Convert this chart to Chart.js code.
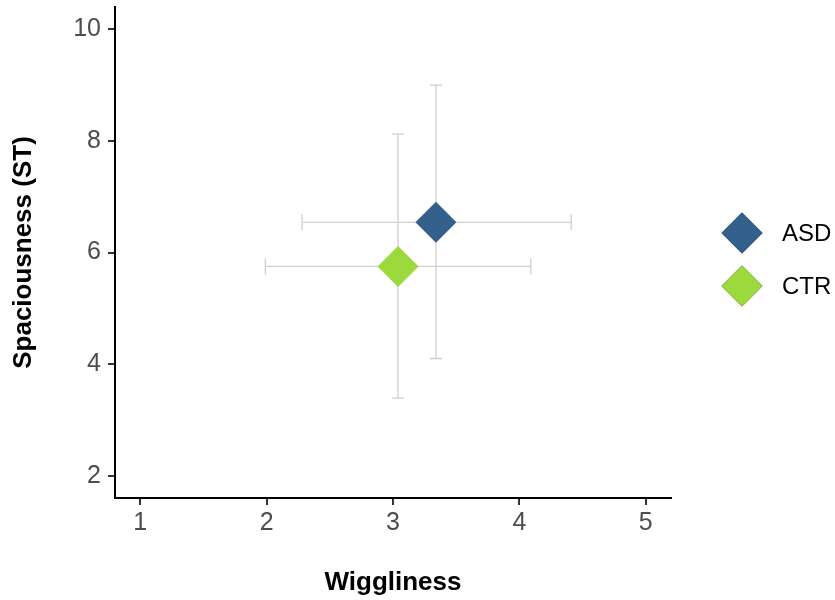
<!DOCTYPE html>
<html>
<head>
<meta charset="utf-8">
<script src="https://cdn.jsdelivr.net/npm/chart.js@4/dist/chart.umd.min.js"></script>
<style>
  html, body { margin: 0; padding: 0; background: #fff; }
  #wrap { width: 835px; height: 600px; }
</style>
</head>
<body>
<div id="wrap"><canvas id="chart" width="835" height="600"></canvas></div>
<script>
const groups = ['ASD', 'CTR'];
const colors = ['#34608C', '#9BD93C'];
const wiggliness = [3.34, 3.04];
const spaciousness = [6.54, 5.75];
const xLow = [2.28, 1.99];
const xHigh = [4.41, 4.09];
const yLow = [4.10, 3.39];
const yHigh = [9.00, 8.12];
const xTicks = [1, 2, 3, 4, 5];
const yTicks = [2, 4, 6, 8, 10];

const fontFamily = '"Liberation Sans", Arial, sans-serif';

// error bars drawn under the diamonds
const errorBars = {
    id: 'errorBars',
    beforeDatasetsDraw(chart) {
        const ctx = chart.ctx;
        const xs = chart.scales.x, ys = chart.scales.y;
        ctx.save();
        ctx.strokeStyle = '#D0D0D0';
        ctx.lineWidth = 1.3;
        groups.forEach((g, i) => {
            const cx = xs.getPixelForValue(wiggliness[i]);
            const cy = ys.getPixelForValue(spaciousness[i]);
            const x0 = xs.getPixelForValue(xLow[i]);
            const x1 = xs.getPixelForValue(xHigh[i]);
            const y0 = ys.getPixelForValue(yLow[i]);
            const y1 = ys.getPixelForValue(yHigh[i]);
            const hc = 8, vc = 6;
            ctx.beginPath();
            ctx.moveTo(x0, cy); ctx.lineTo(x1, cy);
            ctx.moveTo(x0, cy - hc); ctx.lineTo(x0, cy + hc);
            ctx.moveTo(x1, cy - hc); ctx.lineTo(x1, cy + hc);
            ctx.moveTo(cx, y0); ctx.lineTo(cx, y1);
            ctx.moveTo(cx - vc, y0); ctx.lineTo(cx + vc, y0);
            ctx.moveTo(cx - vc, y1); ctx.lineTo(cx + vc, y1);
            ctx.stroke();
        });
        ctx.restore();
    }
};

const sideLegend = {
    id: 'sideLegend',
    afterDraw(chart) {
        const ctx = chart.ctx;
        const area = chart.chartArea;
        const left = area.right + 71;
        const top = 233;
        ctx.save();
        groups.forEach((g, i) => {
            const y = top + i * 53;
            Chart.helpers.drawPoint(ctx, {
                pointStyle: 'rectRot', radius: 20.5, borderWidth: 0, rotation: 0
            }, left, y);
            ctx.fillStyle = colors[i];
            ctx.fill();
            ctx.fillStyle = '#000';
            ctx.font = '24px ' + fontFamily;
            ctx.textBaseline = 'middle';
            ctx.textAlign = 'left';
            ctx.fillText(g, left + 40, y + 1);
        });
        ctx.restore();
    }
};

const datasets = groups.map((g, i) => ({
    label: g,
    data: [{ x: wiggliness[i], y: spaciousness[i] }],
    backgroundColor: colors[i],
    borderWidth: 0,
    pointStyle: 'rectRot',
    pointRadius: 20.5,
    pointHoverRadius: 20.5
}));

new Chart(document.getElementById('chart').getContext('2d'), {
    type: 'scatter',
    data: { datasets: datasets },
    options: {
        responsive: false,
        animation: false,
        layout: { autoPadding: false, padding: { top: 6, right: 164, left: 0, bottom: 0 } },
        plugins: { legend: { display: false }, tooltip: { enabled: false } },
        scales: {
            x: {
                type: 'linear',
                min: 0.8,
                max: 5.2,
                afterFit(scale) { scale.height = 102; },
                afterBuildTicks(scale) { scale.ticks = xTicks.map(v => ({ value: v })); },
                ticks: { color: '#4D4D4D', font: { size: 25, family: fontFamily }, padding: 3 },
                grid: { display: true, drawOnChartArea: false, drawTicks: true, tickLength: 7, color: '#333', lineWidth: 2 },
                border: { display: true, color: '#000', width: 2 },
                title: {
                    display: true, text: 'Wiggliness', color: '#000',
                    font: { size: 26, weight: 'bold', family: fontFamily },
                    padding: { top: 0, bottom: 2 }
                }
            },
            y: {
                type: 'linear',
                min: 1.6,
                max: 10.4,
                afterFit(scale) { scale.width = 115; },
                afterBuildTicks(scale) { scale.ticks = yTicks.map(v => ({ value: v })); },
                // lineHeight 0 keeps the top label from pushing the plot area down
                ticks: { color: '#4D4D4D', font: { size: 25, family: fontFamily, lineHeight: 0 }, padding: 7 },
                grid: { display: true, drawOnChartArea: false, drawTicks: true, tickLength: 7, color: '#333', lineWidth: 2 },
                border: { display: true, color: '#000', width: 2 },
                title: {
                    display: true, text: 'Spaciousness (ST)', color: '#000',
                    font: { size: 26, weight: 'bold', family: fontFamily },
                    padding: { top: 8, bottom: 0 }
                }
            }
        }
    },
    plugins: [errorBars, sideLegend]
});
</script>
</body>
</html>
